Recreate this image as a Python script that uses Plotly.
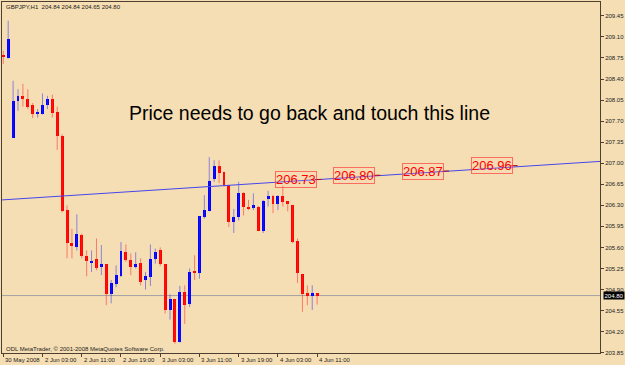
import plotly.graph_objects as go

# ---- data (GBPJPY H1 bars) ----
opens  = [208.79, 208.75, 207.42, 208.03, 208.12, 208.06, 207.96, 207.83, 207.82, 207.96,
          208.06, 207.85, 207.46, 206.22, 205.67, 205.61, 205.80, 205.45, 205.34, 205.40,
          205.27, 205.32, 204.82, 204.99, 205.12, 205.52, 205.39, 205.28, 205.34, 205.06,
          205.11, 205.40, 205.56, 205.32, 204.56, 204.74, 204.03, 204.86, 204.66, 205.20,
          205.17, 206.11, 206.20, 206.74, 206.96, 206.85, 206.63, 206.03, 206.10, 206.50,
          206.28, 206.26, 206.28, 205.87, 206.40, 206.45, 206.33, 206.45, 206.37, 206.31,
          205.71, 205.16, 204.84, 204.80, 204.84]
highs  = [208.87, 209.37, 208.37, 208.23, 208.32, 208.23, 208.00, 207.90, 208.16, 208.12,
          208.14, 207.94, 207.48, 206.30, 205.91, 206.15, 205.83, 205.55, 205.55, 205.75,
          205.64, 205.32, 205.06, 205.30, 205.69, 205.65, 205.50, 205.52, 205.42, 205.19,
          205.65, 205.58, 205.60, 205.32, 204.82, 204.74, 204.96, 204.97, 205.25, 205.47,
          206.12, 206.47, 207.10, 207.05, 207.05, 206.86, 206.63, 206.24, 206.69, 206.52,
          206.39, 206.50, 206.29, 206.39, 206.54, 206.47, 206.47, 206.63, 206.37, 206.31,
          205.75, 205.16, 204.97, 204.97, 204.84]
lows   = [208.65, 208.74, 207.42, 207.87, 207.94, 207.90, 207.75, 207.76, 207.81, 207.90,
          207.76, 207.22, 206.18, 205.42, 205.42, 205.55, 205.42, 205.12, 205.19, 205.22,
          205.14, 204.64, 204.67, 204.94, 205.11, 205.36, 205.14, 205.25, 204.97, 204.90,
          204.96, 205.33, 205.29, 204.50, 204.40, 204.00, 204.02, 204.33, 204.61, 205.06,
          205.08, 206.08, 206.20, 206.69, 206.67, 206.61, 205.94, 205.84, 206.05, 206.13,
          206.22, 206.22, 205.87, 205.84, 206.28, 206.17, 206.22, 206.28, 206.20, 205.67,
          205.01, 204.53, 204.64, 204.56, 204.65]
closes = [208.77, 209.06, 208.04, 208.11, 208.06, 207.94, 207.81, 207.85, 207.97, 208.06,
          207.83, 207.46, 206.20, 205.67, 205.63, 205.82, 205.45, 205.38, 205.38, 205.25,
          205.32, 204.82, 205.01, 205.14, 205.54, 205.39, 205.27, 205.32, 205.03, 205.12,
          205.40, 205.52, 205.32, 204.56, 204.74, 204.02, 204.86, 204.64, 205.19, 205.18,
          206.12, 206.22, 206.71, 206.96, 206.84, 206.63, 206.03, 206.10, 206.50, 206.27,
          206.24, 206.30, 205.88, 206.38, 206.45, 206.33, 206.45, 206.35, 206.32, 205.69,
          205.18, 204.82, 204.79, 204.84, 204.80]

time_tick_bars   = [0, 8, 16, 24, 32, 40, 48, 56, 64]
time_tick_labels = ["30 May 2008", "2 Jun 03:00", "2 Jun 11:00", "2 Jun 19:00", "3 Jun 03:00",
                    "3 Jun 11:00", "3 Jun 19:00", "4 Jun 03:00", "4 Jun 11:00"]
price_ticks = [203.85, 204.20, 204.55, 204.90, 205.25, 205.60, 205.95, 206.30, 206.65,
               207.00, 207.35, 207.70, 208.05, 208.40, 208.75, 209.10, 209.45]
price_tick_labels = ["%.2f" % v for v in price_ticks]

trend_x = [-0.26, 121.68]
trend_y = [206.39, 207.03]
label_x = [59.6, 71.6, 85.6, 99.6]
label_values = [206.73, 206.80, 206.87, 206.96]
current_price = 204.80
header = "GBPJPY,H1  204.84 204.84 204.65 204.80"
note = "Price needs to go back and touch this line"
copyright_text = "ODL MetaTrader, © 2001-2008 MetaQuotes Software Corp."

# ---- styling ----
BG = "#F5DEB3"
FRAME = "#4d4033"
RED = "#ff0000"
BLUE = "#0000ff"
RED_WICK = "rgba(255,40,40,0.55)"
BLUE_WICK = "rgba(40,40,255,0.5)"
FONT = "Liberation Sans, Arial, sans-serif"

n = len(opens)
xs = list(range(n))
fig = go.Figure()

# wicks
for color, up in ((RED_WICK, False), (BLUE_WICK, True)):
    wx, wy = [], []
    for i in xs:
        if (closes[i] >= opens[i]) == up:
            wx += [i, i, None]
            wy += [lows[i], highs[i], None]
    fig.add_trace(go.Scatter(x=wx, y=wy, mode="lines", line=dict(color=color, width=1),
                             hoverinfo="skip", showlegend=False))

# bodies
MINH = 0.02
for color, up in ((RED, False), (BLUE, True)):
    bx, bb, bh = [], [], []
    for i in xs:
        if (closes[i] >= opens[i]) == up:
            lo, hi = min(opens[i], closes[i]), max(opens[i], closes[i])
            h = hi - lo
            if h < MINH:
                lo = (lo + hi) / 2 - MINH / 2
                h = MINH
            bx.append(i); bb.append(lo); bh.append(h)
    fig.add_trace(go.Bar(x=bx, y=bh, base=bb, width=0.6, marker=dict(color=color, line=dict(width=0)),
                         showlegend=False, hoverinfo="skip"))

# trend line
fig.add_trace(go.Scatter(x=trend_x, y=trend_y, mode="lines", line=dict(color="#4646ee", width=1),
                         hoverinfo="skip", showlegend=False))

# current price line
fig.add_shape(type="line", xref="paper", x0=0, x1=1, yref="y", y0=current_price, y1=current_price,
              line=dict(color="#a2a2a2", width=1), layer="below")

annotations = []
for lx, lv in zip(label_x, label_values):
    annotations.append(dict(x=lx, y=lv, xref="x", yref="y", text="%.2f" % lv, showarrow=False,
                            font=dict(family=FONT, size=13, color=RED),
                            bordercolor="rgba(255,60,60,0.7)", borderwidth=1, borderpad=0,
                            bgcolor="rgba(255,200,180,0.15)"))
    fig.add_shape(type="line", xref="x", yref="y", x0=lx + 4.0, x1=lx + 5.3,
                  y0=lv, y1=lv, line=dict(color="#b01010", width=1))

for tb, tl in zip(time_tick_bars, time_tick_labels):
    annotations.append(dict(x=tb, y=-0.0213, xref="x", yref="paper", text=tl, showarrow=False,
                            xanchor="left", yanchor="middle", xshift=0,
                            font=dict(family=FONT, size=6, color="#222")))

annotations.append(dict(x=0.0033, y=0.986, xref="paper", yref="paper", text=header, showarrow=False,
                        xanchor="left", yanchor="middle", font=dict(family=FONT, size=6, color="#222")))
annotations.append(dict(x=0.0033, y=0.0114, xref="paper", yref="paper", text=copyright_text,
                        showarrow=False, xanchor="left", yanchor="middle",
                        font=dict(family=FONT, size=6, color="#222")))
annotations.append(dict(x=0.515, y=0.6847, xref="paper", yref="paper", text=note, showarrow=False,
                        xanchor="center", yanchor="middle", font=dict(family=FONT, size=19.5, color="#000")))
annotations.append(dict(x=1.005, y=current_price, xref="paper", yref="y", text="%.2f" % current_price,
                        showarrow=False, xanchor="left", yanchor="middle", bgcolor="#000",
                        borderpad=0.5, font=dict(family=FONT, size=6, color="#fff")))

fig.update_layout(
    width=625, height=365,
    margin=dict(l=1, r=24, t=1, b=12, pad=0),
    paper_bgcolor=BG, plot_bgcolor=BG,
    barmode="overlay", bargap=0,
    showlegend=False,
    annotations=annotations,
    xaxis=dict(range=[-0.264, 121.68], showgrid=False, zeroline=False,
               tickvals=time_tick_bars, ticktext=[""] * len(time_tick_bars),
               ticks="outside", ticklen=3, tickcolor=FRAME,
               showline=True, linecolor=FRAME, linewidth=1, mirror=True, fixedrange=True),
    yaxis=dict(range=[203.845, 209.68], side="right", showgrid=False, zeroline=False,
               tickvals=price_ticks, ticktext=price_tick_labels,
               ticks="outside", ticklen=3, tickcolor=FRAME,
               tickfont=dict(family=FONT, size=6, color="#222"),
               showline=True, linecolor=FRAME, linewidth=1, mirror=True, fixedrange=True),
)

fig.write_html("out.html", config={"displayModeBar": False})
